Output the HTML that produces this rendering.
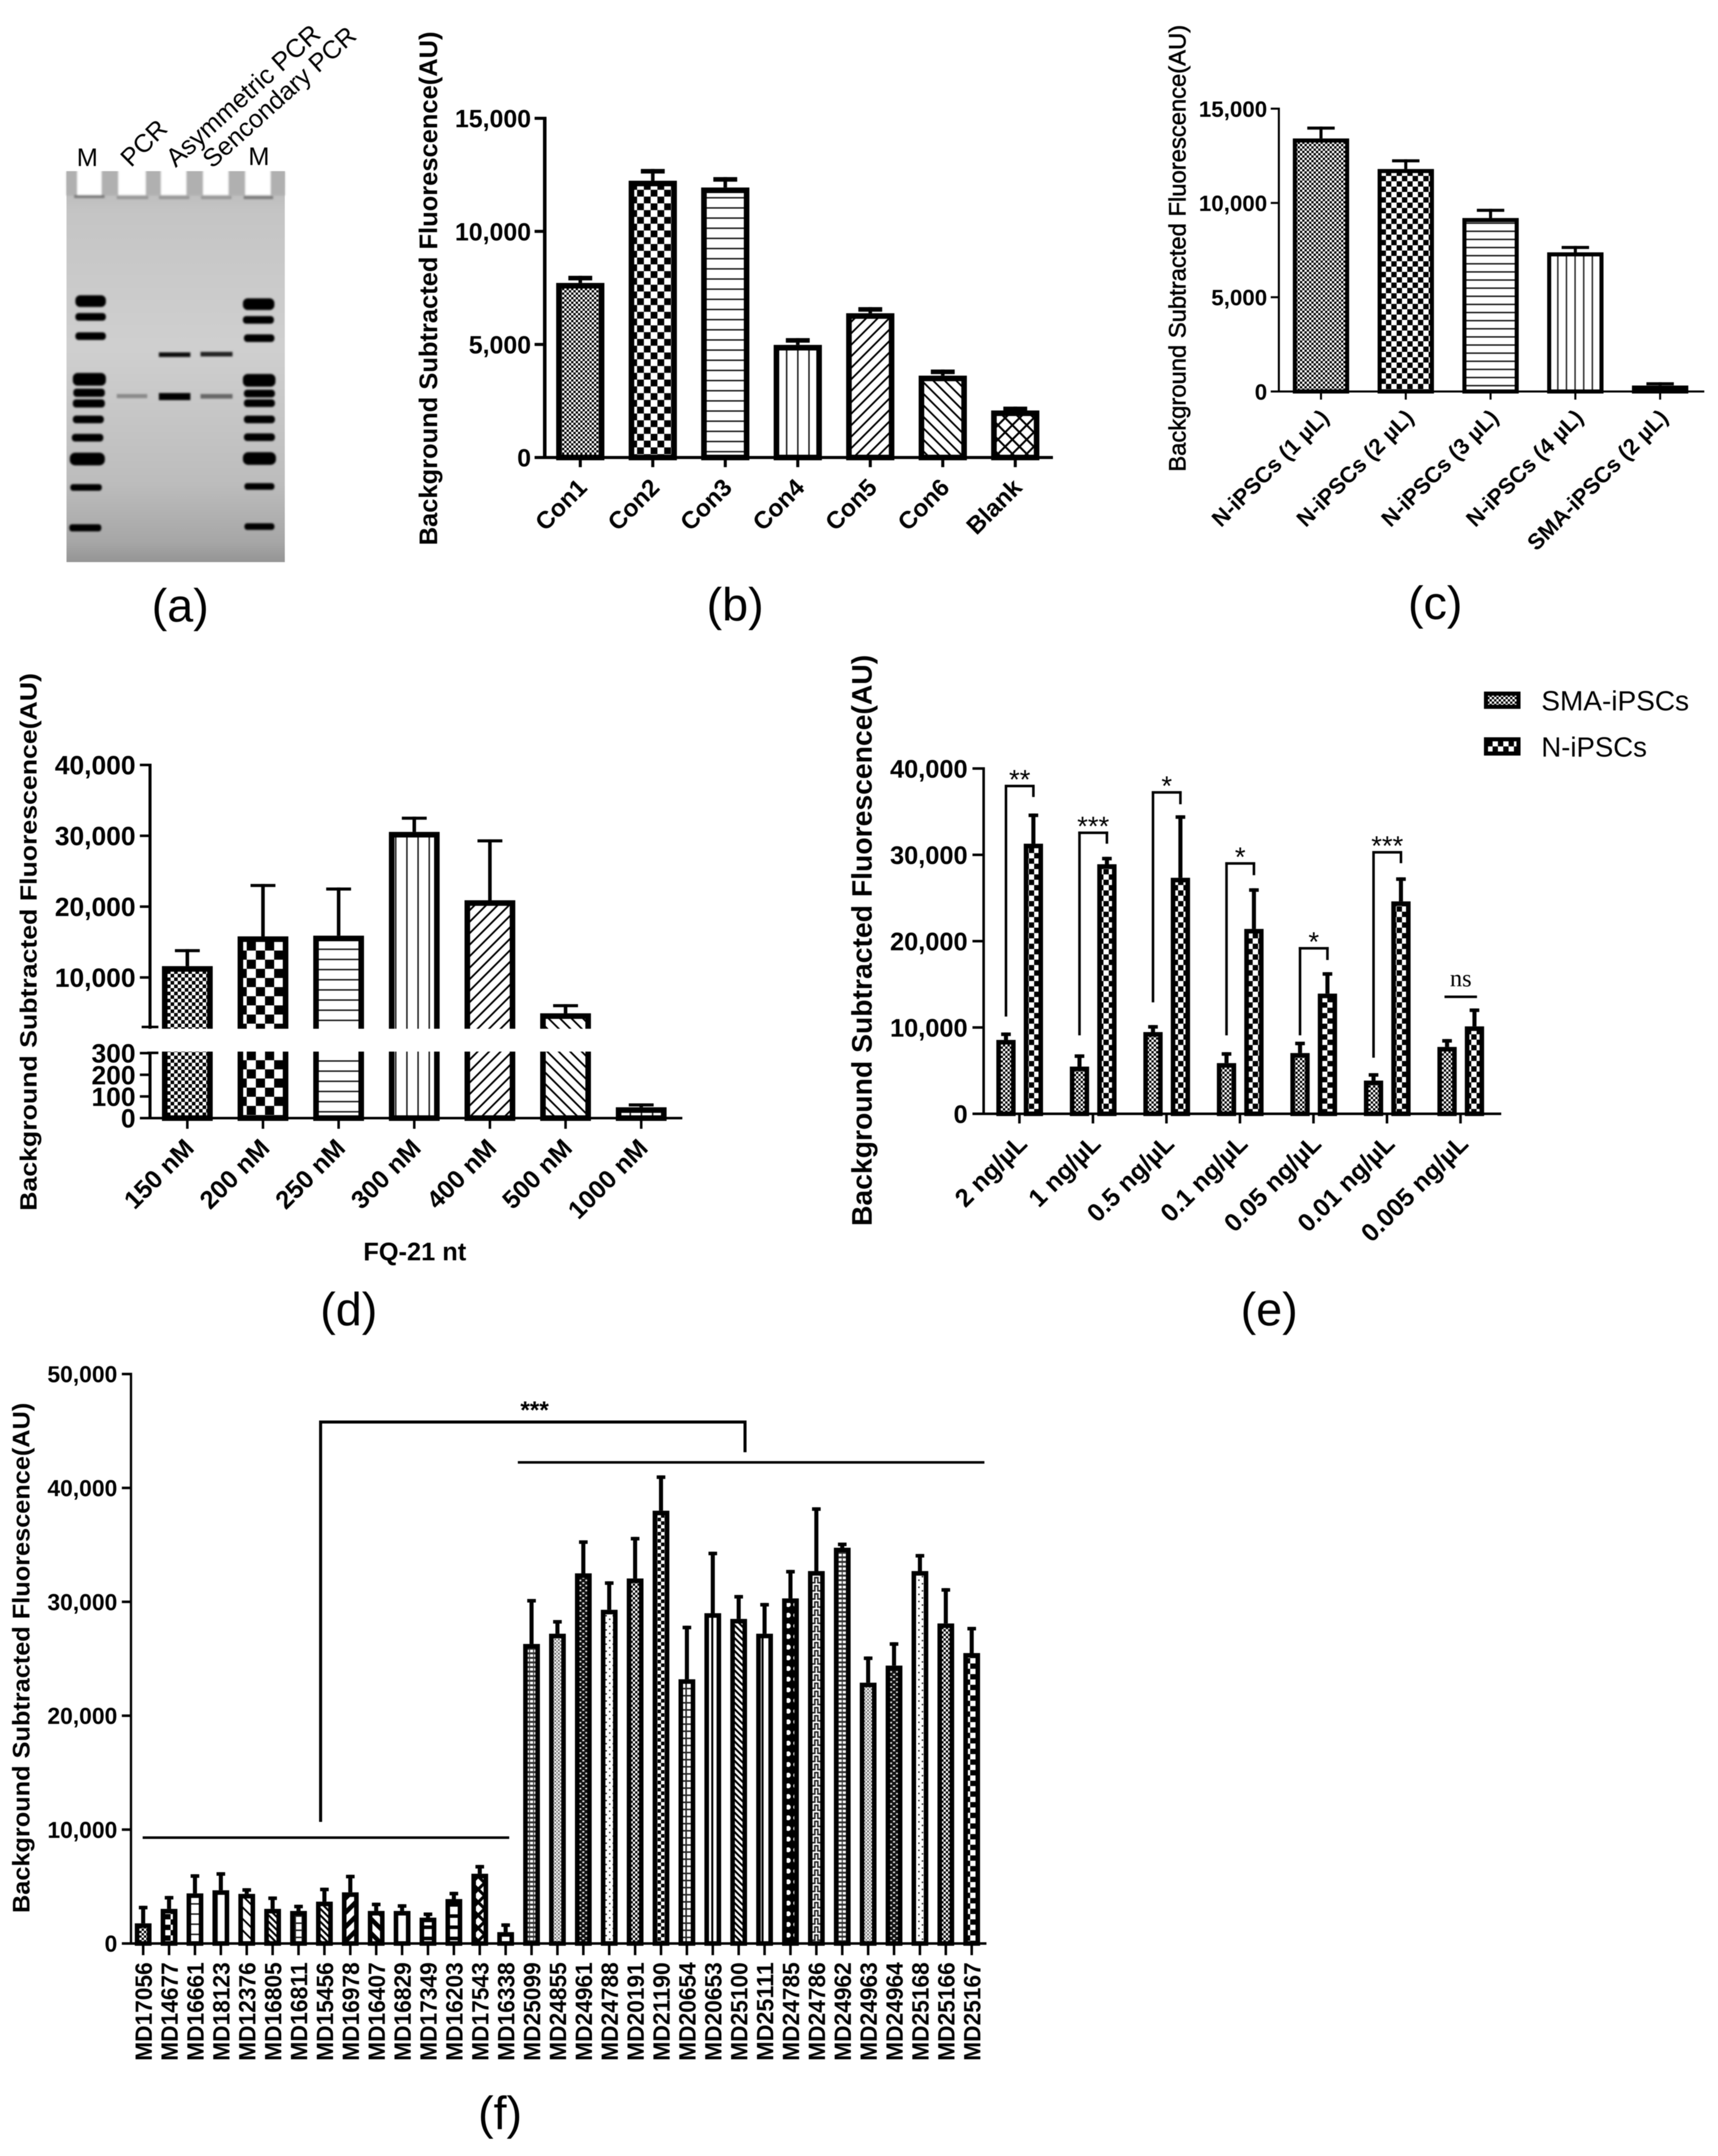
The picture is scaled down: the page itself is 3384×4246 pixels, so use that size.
<!DOCTYPE html>
<html lang="en">
<head>
<meta charset="utf-8">
<title>iPSC fluorescence figure</title>
<style>
html,body{margin:0;padding:0;background:#fff}
svg{display:block;filter:blur(0.8px)}
text{font-family:"Liberation Sans","DejaVu Sans",sans-serif;fill:#000}
</style>
</head>
<body>
<svg id="figure" width="3384" height="4246" viewBox="0 0 3384 4246">
<defs>
<filter id="soft" x="-20%" y="-60%" width="140%" height="220%"><feGaussianBlur stdDeviation="1.8"/></filter>
<linearGradient id="gel-bg" x1="0" y1="0" x2="0" y2="1">
<stop offset="0" stop-color="#b4b4b4"/><stop offset=".1" stop-color="#c4c4c4"/><stop offset=".45" stop-color="#cfcfcf"/><stop offset=".8" stop-color="#bcbcbc"/><stop offset=".95" stop-color="#a6a6a6"/><stop offset="1" stop-color="#949494"/>
</linearGradient>
<pattern id="p-check-9" width="9" height="9" patternUnits="userSpaceOnUse"><rect width="9" height="9" fill="#fff"/><rect width="4.5" height="4.5"/><rect x="4.5" y="4.5" width="4.5" height="4.5"/></pattern>
<pattern id="p-check-14" width="14" height="14" patternUnits="userSpaceOnUse"><rect width="14" height="14" fill="#fff"/><rect width="7" height="7"/><rect x="7" y="7" width="7" height="7"/></pattern>
<pattern id="p-check-21" width="21" height="21" patternUnits="userSpaceOnUse"><rect width="21" height="21" fill="#fff"/><rect width="10.5" height="10.5"/><rect x="10.5" y="10.5" width="10.5" height="10.5"/></pattern>
<pattern id="p-check-27" width="26.7" height="26.7" patternUnits="userSpaceOnUse"><rect width="26.7" height="26.7" fill="#fff"/><rect width="13.35" height="13.35"/><rect x="13.35" y="13.35" width="13.35" height="13.35"/></pattern>
<pattern id="p-check-36" width="36" height="36" patternUnits="userSpaceOnUse"><rect width="36" height="36" fill="#fff"/><rect width="18" height="18"/><rect x="18" y="18" width="18" height="18"/></pattern>
<pattern id="p-hlines" width="20" height="20" patternUnits="userSpaceOnUse"><rect width="20" height="20" fill="#fff"/><rect y="8" width="20" height="3" fill="#222"/></pattern>
<pattern id="p-hlines-16" width="16" height="16" patternUnits="userSpaceOnUse"><rect width="16" height="16" fill="#fff"/><rect y="6" width="16" height="3" fill="#222"/></pattern>
<pattern id="p-vlines" width="22" height="22" patternUnits="userSpaceOnUse"><rect width="22" height="22" fill="#fff"/><rect x="8" width="3" height="22" fill="#222"/></pattern>
<pattern id="p-vlines-17" width="17" height="17" patternUnits="userSpaceOnUse"><rect width="17" height="17" fill="#fff"/><rect x="7" width="3" height="17" fill="#333"/></pattern>
<pattern id="p-vline-center" width="33" height="10" patternUnits="userSpaceOnUse"><rect width="33" height="10" fill="#fff"/><rect x="15" width="4" height="10"/></pattern>
<pattern id="p-diag-up" width="16" height="16" patternUnits="userSpaceOnUse" patternTransform="rotate(45)"><rect width="16" height="16" fill="#fff"/><rect width="3.5" height="16"/></pattern>
<pattern id="p-diag-down" width="16" height="16" patternUnits="userSpaceOnUse" patternTransform="rotate(-45)"><rect width="16" height="16" fill="#fff"/><rect width="3.5" height="16"/></pattern>
<pattern id="p-diag-fine" width="9" height="9" patternUnits="userSpaceOnUse" patternTransform="rotate(-45)"><rect width="9" height="9" fill="#fff"/><rect width="4" height="9"/></pattern>
<pattern id="p-diag-thick-up" width="20" height="20" patternUnits="userSpaceOnUse" patternTransform="rotate(45)"><rect width="20" height="20" fill="#fff"/><rect width="9" height="20"/></pattern>
<pattern id="p-diag-thick-down" width="20" height="20" patternUnits="userSpaceOnUse" patternTransform="rotate(-45)"><rect width="20" height="20" fill="#fff"/><rect width="9" height="20"/></pattern>
<pattern id="p-hatch" width="20" height="20" patternUnits="userSpaceOnUse" patternTransform="rotate(45)"><rect width="20" height="20" fill="#fff"/><rect width="4" height="20"/><rect width="20" height="4"/></pattern>
<pattern id="p-cross" width="18" height="18" patternUnits="userSpaceOnUse" patternTransform="rotate(45)"><rect width="18" height="18" fill="#fff"/><rect width="6" height="18"/><rect width="18" height="6"/></pattern>
<pattern id="p-grid" width="14" height="14" patternUnits="userSpaceOnUse"><rect width="14" height="14" fill="#fff"/><rect y="6" width="14" height="3" fill="#222"/><rect x="6" width="3" height="14" fill="#222"/></pattern>
<pattern id="p-bars" width="14" height="22" patternUnits="userSpaceOnUse"><rect width="14" height="22" fill="#fff"/><rect y="8" width="14" height="7"/></pattern>
<pattern id="p-ladder" width="8" height="9" patternUnits="userSpaceOnUse"><rect width="8" height="9" fill="#fff"/><rect y="5" width="8" height="4" fill="#333"/><rect x="2" width="2" height="9" fill="#333"/></pattern>
<pattern id="p-speckle" width="7" height="7" patternUnits="userSpaceOnUse"><rect width="7" height="7" fill="#fff"/><rect width="3.5" height="3.5" fill="#666"/><rect x="3.5" y="3.5" width="3.5" height="3.5" fill="#888"/></pattern>
<pattern id="p-dashes" width="12" height="10" patternUnits="userSpaceOnUse"><rect width="12" height="10" fill="#111"/><rect x="1" y="1" width="4" height="3" fill="#eee"/><rect x="7" y="6" width="4" height="3" fill="#eee"/></pattern>
<pattern id="p-dots" width="14" height="14" patternUnits="userSpaceOnUse"><rect width="14" height="14" fill="#fff"/><circle cx="4" cy="4" r="1.6" fill="#222"/><circle cx="11" cy="11" r="1.6" fill="#222"/></pattern>
<pattern id="p-dark-dots" width="15" height="21" patternUnits="userSpaceOnUse"><rect width="15" height="21" fill="#000"/><circle cx="7.5" cy="10" r="5" fill="#fff"/></pattern>
<pattern id="p-greek" width="16" height="16" patternUnits="userSpaceOnUse"><rect width="16" height="16" fill="#fff"/><path d="M0 13H5V3H11V13H16" fill="none" stroke="#222" stroke-width="3"/></pattern>
</defs>

<rect width="3384" height="4246" fill="#fff"/>

<g>
<rect x="131" y="337" width="430" height="770" fill="url(#gel-bg)"/>
<g filter="url(#soft)">
<rect x="131" y="337" width="430" height="48" fill="#b0b0b0"/>
<rect x="146" y="384" width="60" height="6" fill="#7c7c7c"/>
<rect x="230" y="386" width="62" height="6" fill="#969696"/>
<rect x="313" y="386" width="60" height="6" fill="#969696"/>
<rect x="396" y="386" width="60" height="6" fill="#969696"/>
<rect x="480" y="386" width="58" height="6" fill="#7c7c7c"/>
<rect x="152" y="330" width="48" height="54" fill="#fff"/>
<rect x="233" y="330" width="54" height="54" fill="#fff"/>
<rect x="317" y="330" width="50" height="54" fill="#fff"/>
<rect x="400" y="330" width="50" height="54" fill="#fff"/>
<rect x="483" y="330" width="50" height="54" fill="#fff"/>
</g>
<rect x="120" y="325" width="450" height="12" fill="#fff"/>
<g filter="url(#soft)" fill="#000" stroke="#000" stroke-width="3">
<rect x="150" y="583" width="57" height="20" rx="8"/>
<rect x="150" y="618" width="57" height="12" rx="5"/>
<rect x="150" y="656" width="57" height="12" rx="5"/>
<rect x="145" y="736" width="62" height="22" rx="8"/>
<rect x="146" y="767" width="59" height="13" rx="5"/>
<rect x="145" y="788" width="60" height="13" rx="5"/>
<rect x="145" y="820" width="58" height="12" rx="5"/>
<rect x="143" y="856" width="59" height="12" rx="5"/>
<rect x="139" y="893" width="66" height="22" rx="9"/>
<rect x="140" y="955" width="59" height="10" rx="4"/>
<rect x="138" y="1034" width="60" height="11" rx="4"/>
</g>
<g filter="url(#soft)" fill="#000" stroke="#000" stroke-width="3">
<rect x="480" y="589" width="59" height="20" rx="8"/>
<rect x="480" y="624" width="58" height="12" rx="5"/>
<rect x="482" y="660" width="57" height="12" rx="5"/>
<rect x="480" y="738" width="61" height="22" rx="8"/>
<rect x="482" y="769" width="58" height="12" rx="5"/>
<rect x="482" y="788" width="58" height="12" rx="5"/>
<rect x="482" y="820" width="58" height="12" rx="5"/>
<rect x="482" y="855" width="58" height="12" rx="5"/>
<rect x="480" y="892" width="62" height="22" rx="9"/>
<rect x="483" y="953" width="56" height="10" rx="4"/>
<rect x="483" y="1032" width="56" height="10" rx="4"/>
</g>
<g filter="url(#soft)">
<rect x="230" y="776" width="60" height="8" fill="#8a8a8a"/>
<rect x="313" y="694" width="62" height="9" fill="#111"/>
<rect x="313" y="774" width="62" height="14" fill="#000"/>
<rect x="395" y="693" width="63" height="9" fill="#222"/>
<rect x="395" y="776" width="63" height="9" fill="#666"/>
</g>
<text x="172" y="327" font-size="50" text-anchor="middle">M</text>
<text x="510" y="325" font-size="50" text-anchor="middle">M</text>
<text transform="translate(258,331) rotate(-45)" font-size="50">PCR</text>
<text transform="translate(346,331) rotate(-42)" font-size="51">Asymmetric PCR</text>
<text transform="translate(418,333) rotate(-42)" font-size="50">Sencondary PCR</text>
<text x="355" y="1224" font-size="92" text-anchor="middle">(a)</text>
</g>

<g id="panel-b">
<text transform="translate(861,568) rotate(-90)" font-size="50" font-weight="bold" text-anchor="middle" textLength="1012" lengthAdjust="spacingAndGlyphs">Background Subtracted Fluorescence(AU)</text>
<text x="1448" y="1222" font-size="92" text-anchor="middle">(b)</text>
</g>

<g id="panel-c">
<text transform="translate(2335,489) rotate(-90)" font-size="46" text-anchor="middle" textLength="880" lengthAdjust="spacingAndGlyphs" stroke="#000" stroke-width="1">Background Subtracted Fluorescence(AU)</text>
<text x="2827" y="1219" font-size="92" text-anchor="middle">(c)</text>
</g>

<g id="panel-d">
<text transform="translate(72,1855) rotate(-90)" font-size="46" font-weight="bold" text-anchor="middle" textLength="1059" lengthAdjust="spacingAndGlyphs">Background Subtracted Fluorescence(AU)</text>
<text x="817" y="2482" font-size="50" font-weight="bold" text-anchor="middle">FQ-21 nt</text>
<text x="687" y="2610" font-size="92" text-anchor="middle">(d)</text>
</g>

<g id="panel-e">
<text transform="translate(1717,1852) rotate(-90)" font-size="56" font-weight="bold" text-anchor="middle" textLength="1125" lengthAdjust="spacingAndGlyphs">Background Subtracted Fluorescence(AU)</text>
<g>
<rect x="2927" y="1366" width="64" height="26" fill="url(#p-check-9)" stroke="#000" stroke-width="8"/>
<text x="3036" y="1399" font-size="55" textLength="291" lengthAdjust="spacingAndGlyphs">SMA-iPSCs</text>
<rect x="2927" y="1456" width="64" height="28" fill="url(#p-check-21)" stroke="#000" stroke-width="8"/>
<text x="3036" y="1490" font-size="55" textLength="208" lengthAdjust="spacingAndGlyphs">N-iPSCs</text>
</g>
<text x="2500" y="2610" font-size="92" text-anchor="middle">(e)</text>
</g>

<g id="panel-f">
<text transform="translate(58,3265) rotate(-90)" font-size="47" font-weight="bold" text-anchor="middle" textLength="1005" lengthAdjust="spacingAndGlyphs">Background Subtracted Fluorescence(AU)</text>
<path d="M631.5 3588V2800.5H1467.5V2860" fill="none" stroke="#000" stroke-width="6"/>
<text x="1053" y="2793" font-size="48" font-weight="bold" text-anchor="middle">***</text>
<rect x="281" y="3616.5" width="722" height="5" fill="#000"/>
<rect x="1020" y="2877.5" width="919" height="5" fill="#000"/>
<text x="985" y="4193" font-size="92" text-anchor="middle">(f)</text>
</g>
</svg>

<script>
/* Panel (b) data */
const bCategories = ['Con1','Con2','Con3','Con4','Con5','Con6','Blank'];
const bValues = [7720,12240,11940,4980,6380,3620,2080];
const bErrorTops = [8035,12760,12400,5280,6650,3890,2250];
const bTicks = [0,5000,10000,15000];
const bTickLabels = ['0','5,000','10,000','15,000'];
const bFills = ['p-check-9','p-check-27','p-hlines','p-vlines','p-diag-up','p-diag-down','p-hatch'];

/* Panel (c) data */
const cCategories = ['N-iPSCs (1 µL)','N-iPSCs (2 µL)','N-iPSCs (3 µL)','N-iPSCs (4 µL)','SMA-iPSCs (2 µL)'];
const cValues = [13420,11800,9200,7380,316];
const cErrorTops = [14050,12315,9690,7720,490];
const cTicks = [0,5000,10000,15000];
const cTickLabels = ['0','5,000','10,000','15,000'];
const cFills = ['p-check-9','p-check-21','p-hlines-16','p-vlines-17','p-hlines-16'];

/* Panel (d) data */
const dCategories = ['150 nM','200 nM','250 nM','300 nM','400 nM','500 nM','1000 nM'];
const dValues = [11600,15800,15900,30550,20900,4940,50];
const dErrorTops = [14000,23200,22700,32700,29500,6230,68];
const dTicks = [0,100,200,300,10000,20000,30000,40000];
const dTickLabels = ['0','100','200','300','10,000','20,000','30,000','40,000'];
const dFills = ['p-check-14','p-check-36','p-hlines','p-vlines','p-diag-up','p-diag-down','p-vlines'];

/* Panel (e) data */
const eCategories = ['2 ng/µL','1 ng/µL','0.5 ng/µL','0.1 ng/µL','0.05 ng/µL','0.01 ng/µL','0.005 ng/µL'];
const eSmaValues = [8557,5468,9468,5873,7038,3848,7747];
const eSmaErrorTops = [9418,6886,10278,7139,8354,4709,8658];
const eNormalValues = [31291,28911,27342,21418,13924,24608,10127];
const eNormalErrorTops = [34785,29772,34582,26127,16405,27392,12203];
const eTicks = [0,10000,20000,30000,40000];
const eTickLabels = ['0','10,000','20,000','30,000','40,000'];
const eSignificance = ['**','***','*','*','*','***','ns'];
const eBracketTops = [38120,32700,37380,29150,19320,30440,13700];
const eBracketLeftEnds = [11265,9088,12910,9088,9088,6500,13700];
const eBracketRightEnds = [36700,31290,35860,27640,17820,29030,13700];

/* Panel (f) data */
const fCategories = ['MD17056','MD14677','MD16661','MD18123','MD12376','MD16805','MD16811','MD15456','MD16978','MD16407','MD16829','MD17349','MD16203','MD17543','MD16338','MD25099','MD24855','MD24961','MD24788','MD20191','MD21190','MD20654','MD20653','MD25100','MD25111','MD24785','MD24786','MD24962','MD24963','MD24964','MD25168','MD25166','MD25167'];
const fValues = [1770,3040,4400,4673,4356,3040,2858,3675,4492,2858,2858,2269,3902,6125,998,26300,27200,32500,29300,32050,38000,23200,29000,28500,27200,30300,32700,34750,22900,24400,32700,28100,25500];
const fErrorTops = [3310,4174,6080,6261,4855,4129,3403,4900,6034,3584,3448,2722,4537,6897,1770,30250,28400,35400,31800,35700,41100,27900,34400,30600,29900,32800,38300,35200,25200,26450,34200,31200,27800];
const fTicks = [0,10000,20000,30000,40000,50000];
const fTickLabels = ['0','10,000','20,000','30,000','40,000','50,000'];
const fFills = ['p-check-9','p-check-21','p-hlines','p-vlines','p-diag-down','p-diag-fine','p-grid','p-diag-fine','p-diag-thick-up','p-diag-thick-down','p-vline-center','p-bars','p-bars','p-cross','p-hlines','p-ladder','p-speckle','p-dashes','p-dots','p-check-9','p-check-14','p-grid','p-vline-center','p-diag-fine','p-vline-center','p-dark-dots','p-greek','p-ladder','p-speckle','p-dashes','p-dots','p-check-9','p-check-21'];

const SVG_NS = 'http://www.w3.org/2000/svg';

function linear(d0, d1, r0, r1) {
  return function (v) { return r0 + (v - d0) * (r1 - r0) / (d1 - d0); };
}
function band(first, step) {
  return function (i) { return first + i * step; };
}
function rect(parent, x, y, w, h, fill) {
  const el = document.createElementNS(SVG_NS, 'rect');
  el.setAttribute('x', x);
  el.setAttribute('y', y);
  el.setAttribute('width', w);
  el.setAttribute('height', h);
  el.setAttribute('fill', fill);
  parent.appendChild(el);
  return el;
}
function label(parent, content, x, y, size, weight, anchor, rotation, length) {
  const el = document.createElementNS(SVG_NS, 'text');
  el.textContent = content;
  el.setAttribute('font-size', size);
  el.setAttribute('font-weight', weight);
  el.setAttribute('text-anchor', anchor);
  el.setAttribute('transform', 'translate(' + x + ',' + y + ') rotate(' + rotation + ')');
  if (length) {
    el.setAttribute('textLength', length);
    el.setAttribute('lengthAdjust', 'spacingAndGlyphs');
  }
  parent.appendChild(el);
  return el;
}

function drawBars(g, s) {
  s.values.forEach(function (value, i) {
    const cx = s.x(i);
    const top = s.y(value);
    const err = s.y(s.errorTops[i]);
    const stem = rect(g, cx - s.stem / 2, err, s.stem, Math.max(0, top - err), '#000');
    
    
    const cap = rect(g, cx - s.capW / 2, err, s.capW, s.capH, '#000');
    
    
    const bar = rect(g, cx - s.barW / 2 + s.border / 2, top + s.border / 2, s.barW - s.border, Math.max(0, s.base - top - s.border / 2), 'url(#' + s.fills[i] + ')');
    bar.setAttribute('stroke', '#000');
    bar.setAttribute('stroke-width', s.border);
    
    
  });
}

function drawAxes(g, a) {
  const yLine = rect(g, a.axisX - a.yThick / 2, a.top - a.tickThick / 2, a.yThick, a.base - a.top + a.tickThick, '#000');
  
  
  const xLine = rect(g, a.axisX - a.tickLeft, a.base - a.xThick / 2, a.right - a.axisX + a.tickLeft, a.xThick, '#000');
  
  
  a.ticks.forEach(function (t, i) {
    const y = a.y(t);
    const mark = rect(g, a.axisX - a.tickLeft, y - a.tickThick / 2, a.tickLeft, a.tickThick, '#000');
    
    
    const text = label(g, a.tickLabels[i], a.labelRight, y + a.tickFont * 0.36, a.tickFont, 'bold', 'end', 0);
    
    
  });
  a.categories.forEach(function (c, i) {
    const x = a.x(i);
    const mark = rect(g, x - a.tickThick / 2, a.base, a.tickThick, a.tickDown, '#000');
    
    
    const text = label(g, c, x + a.catDx, a.base + a.catDy, a.catFont, 'bold', 'end', a.catRotate, a.catLength);
    
    
  });
}

/* ---- Panel (b) ---- */
(function () {
  const g = document.getElementById('panel-b');
  const y = linear(0, 15000, 901, 233);
  const x = band(1143, 142.8);
  drawBars(g, {x: x, y: y, values: bValues, errorTops: bErrorTops, fills: bFills, names: bCategories, base: 901, barW: 95, border: 11, stem: 7, capW: 47, capH: 9});
  drawAxes(g, {axisX: 1073, top: 233, base: 901, right: 2074, yThick: 7, xThick: 6, tickLeft: 20, tickThick: 6, tickDown: 19, y: y, x: x, ticks: bTicks, tickLabels: bTickLabels, labelRight: 1046, tickFont: 49, categories: bCategories, catFont: 48, catDx: 16, catDy: 62, catRotate: -45});
})();

/* ---- Panel (c) ---- */
(function () {
  const g = document.getElementById('panel-c');
  const y = linear(0, 15000, 771, 214);
  const x = band(2602, 167);
  drawBars(g, {x: x, y: y, values: cValues, errorTops: cErrorTops, fills: cFills, names: cCategories, base: 771, barW: 111, border: 8, stem: 6, capW: 54, capH: 6});
  drawAxes(g, {axisX: 2519, top: 214, base: 771, right: 3357, yThick: 4, xThick: 4, tickLeft: 16, tickThick: 4, tickDown: 16, y: y, x: x, ticks: cTicks, tickLabels: cTickLabels, labelRight: 2496, tickFont: 44, categories: cCategories, catFont: 44, catDx: 18, catDy: 54, catRotate: -45});
})();

/* ---- Panel (d) — broken y axis ---- */
(function () {
  const g = document.getElementById('panel-d');
  const lower = linear(0, 300, 2202, 2074);
  const upper = linear(10000, 40000, 1925, 1506.5);
  const gap = linear(300, 3000, 2074, 2023);
  const y = function (v) { return v <= 300 ? lower(v) : (v >= 3000 ? upper(v) : gap(v)); };
  const x = band(369, 149);
  drawBars(g, {x: x, y: y, values: dValues, errorTops: dErrorTops, fills: dFills, names: dCategories, base: 2202, barW: 100, border: 11, stem: 7, capW: 49, capH: 6});
  drawAxes(g, {axisX: 295.5, top: 1506.5, base: 2202, right: 1344, yThick: 6, xThick: 5, tickLeft: 20, tickThick: 5, tickDown: 21, y: y, x: x, ticks: dTicks, tickLabels: dTickLabels, labelRight: 267, tickFont: 52, categories: dCategories, catFont: 50, catDx: 16, catDy: 62, catRotate: -45});
  const breakGap = rect(g, 285, 2026, 1040, 45, '#fff');
  
  
  const breakTop = rect(g, 279, 2020, 33, 5, '#000');
  
  
  const breakBottom = rect(g, 290, 2071, 22, 5, '#000');
  
  
})();

/* ---- Panel (e) ---- */
(function () {
  const g = document.getElementById('panel-e');
  const y = linear(0, 40000, 2193.5, 1513.5);
  const x = band(2008, 144.8);
  const xSma = function (i) { return x(i) - 26.5; };
  const xNormal = function (i) { return x(i) + 27.5; };
  const smaFills = eCategories.map(function () { return 'p-check-9'; });
  const normalFills = eCategories.map(function () { return 'p-check-21'; });
  drawBars(g, {x: xSma, y: y, values: eSmaValues, errorTops: eSmaErrorTops, fills: smaFills, names: eCategories.map(function (c) { return 'sma ' + c; }), base: 2193.5, barW: 38, border: 9, stem: 8, capW: 19, capH: 7});
  drawBars(g, {x: xNormal, y: y, values: eNormalValues, errorTops: eNormalErrorTops, fills: normalFills, names: eCategories.map(function (c) { return 'normal ' + c; }), base: 2193.5, barW: 38, border: 9, stem: 8, capW: 19, capH: 7});
  drawAxes(g, {axisX: 1937.5, top: 1513.5, base: 2193.5, right: 2957, yThick: 5, xThick: 5, tickLeft: 22, tickThick: 5, tickDown: 19, y: y, x: x, ticks: eTicks, tickLabels: eTickLabels, labelRight: 1906, tickFont: 50, categories: eCategories, catFont: 50, catDx: 18, catDy: 62, catRotate: -45});
  /* Significance brackets */
  eSignificance.forEach(function (mark, i) {
    const left = xSma(i);
    const right = xNormal(i);
    const bracketTop = y(eBracketTops[i]);
    if (mark === 'ns') {
      const nsLine = rect(g, left - 5, bracketTop, right - left + 10, 5, '#000');
      
      
      const nsText = label(g, mark, (left + right) / 2, bracketTop - 18, 48, 'normal', 'middle', 0);
      nsText.style.fontFamily = '"Liberation Serif", serif';
      
      
      return;
    }
    const leftLeg = rect(g, left - 2.5, bracketTop, 5, y(eBracketLeftEnds[i]) - bracketTop, '#000');
    
    
    const topLeg = rect(g, left - 2.5, bracketTop, right - left + 5, 5, '#000');
    
    
    const rightLeg = rect(g, right - 2.5, bracketTop, 5, y(eBracketRightEnds[i]) - bracketTop, '#000');
    
    
    const stars = label(g, mark, (left + right) / 2, bracketTop + 8, 54, 'normal', 'middle', 0);
    
    
  });
})();

/* ---- Panel (f) ---- */
(function () {
  const g = document.getElementById('panel-f');
  const y = linear(0, 50000, 3827.5, 2706);
  const x = band(282, 51);
  drawBars(g, {x: x, y: y, values: fValues, errorTops: fErrorTops, fills: fFills, names: fCategories, base: 3827.5, barW: 33, border: 9, stem: 8, capW: 17, capH: 7});
  drawAxes(g, {axisX: 258, top: 2706, base: 3827.5, right: 1943, yThick: 4.5, xThick: 5, tickLeft: 18, tickThick: 5, tickDown: 23, y: y, x: x, ticks: fTicks, tickLabels: fTickLabels, labelRight: 231, tickFont: 45, categories: fCategories, catFont: 46, catDx: 17, catDy: 37, catRotate: -90, catLength: 194});
})();
</script>
</body>
</html>
